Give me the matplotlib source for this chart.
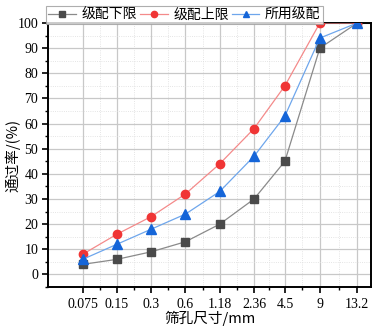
import numpy as np
import matplotlib.pyplot as plt
from matplotlib.ticker import MultipleLocator, FixedLocator

plt.rcParams['font.family'] = ['Noto Sans CJK SC', 'DejaVu Sans']

#%% data
sieve_labels = ['0.075', '0.15', '0.3', '0.6', '1.18', '2.36', '4.5', '9', '13.2']
sieve_pos = [0, 1, 2, 3, 4, 5, 5.9, 6.92, 8.01]  # spacing as drawn in the original
lower = [4, 6, 9, 13, 20, 30, 45, 90, 100]
upper = [8, 16, 23, 32, 44, 58, 75, 100, 100]
used = [6, 12, 18, 24, 33, 47, 63, 94, 100]

#%% plot
fig = plt.figure(figsize=(3.82, 3.27), dpi=100)
ax = fig.add_axes([0.1257, 0.1223, 0.8453, 0.8074])

ax.plot(sieve_pos, lower, color='#8a8a8a', lw=0.9, marker='s', ms=5.5,
        mfc='#4a4a4a', mec='#4a4a4a', label='级配下限', zorder=3)
ax.plot(sieve_pos, upper, color='#f48a8a', lw=0.9, marker='o', ms=6,
        mfc='#f03535', mec='#f03535', label='级配上限', zorder=3)
ax.plot(sieve_pos, used, color='#6ea6ec', lw=0.9, marker='^', ms=6.5,
        mfc='#1565d8', mec='#1565d8', label='所用级配', zorder=3)

ax.set_xlim(-1.01, 8.41)
ax.set_ylim(-5, 100)
ax.xaxis.set_major_locator(FixedLocator(sieve_pos))
ax.set_xticklabels(sieve_labels, family=['Liberation Serif'], fontsize=10)
ax.xaxis.set_minor_locator(FixedLocator([(sieve_pos[i] + sieve_pos[i + 1]) / 2
                                         for i in range(len(sieve_pos) - 1)]))
ax.yaxis.set_major_locator(MultipleLocator(10))
ax.yaxis.set_minor_locator(MultipleLocator(5))
for lab in ax.get_yticklabels():
    lab.set_family('Liberation Serif')
    lab.set_fontsize(10)

ax.tick_params(which='major', direction='out', length=4, width=1.2)
ax.tick_params(which='minor', direction='out', length=2.5, width=1)
ax.tick_params(axis='x', pad=4)
ax.tick_params(axis='y', pad=3)
for s in ax.spines.values():
    s.set_linewidth(1.4)

ax.grid(which='major', color='#c8c8c8', lw=0.9)
ax.grid(which='minor', color='#dcdcdc', lw=0.6, ls=':')
ax.set_axisbelow(True)

ax.set_xlabel('筛孔尺寸/mm', fontsize=10.5, labelpad=0)
ax.set_ylabel('通过率/(%)', fontsize=10.5, labelpad=-2)

leg = ax.legend(loc='lower left', bbox_to_anchor=(-0.005, 0.995), ncol=3,
                frameon=True, fancybox=False, edgecolor='#9a9a9a',
                fontsize=10, handlelength=2.0, handletextpad=0.4,
                columnspacing=0.2, borderpad=0.15, borderaxespad=0.0,
                markerscale=0.75)
leg.get_frame().set_linewidth(0.8)

fig.savefig('out.png', dpi=100)
